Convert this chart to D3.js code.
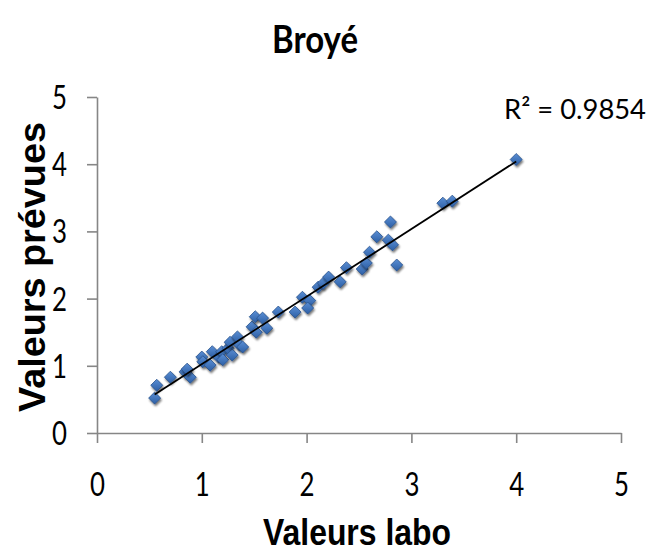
<!DOCTYPE html>
<html><head><meta charset="utf-8">
<script src="https://cdn.jsdelivr.net/npm/d3@7"></script>
<style>html,body{margin:0;padding:0;background:#fff;}svg{display:block;}</style>
</head><body>
<svg id="chart" width="653" height="552"></svg>
<script>
const title = "Broyé";
const xTitle = "Valeurs labo";
const yTitle = "Valeurs prévues";
const r2Label = "R² = 0.9854";
const xTicks = [0, 1, 2, 3, 4, 5];
const yTicks = [0, 1, 2, 3, 4, 5];
const labo = [0.55,0.57,0.70,0.84,0.89,0.86,1.00,1.01,1.08,1.10,1.16,1.19,1.20,1.25,1.29,1.27,1.34,1.36,1.39,1.48,1.51,1.52,1.58,1.62,1.73,1.89,1.96,2.03,2.01,2.11,2.16,2.21,2.32,2.38,2.53,2.57,2.60,2.67,2.78,2.80,2.82,2.86,3.30,3.39,4.00];
const prevues = [0.52,0.71,0.83,0.91,0.83,0.95,1.13,1.06,1.01,1.21,1.13,1.21,1.09,1.26,1.16,1.35,1.43,1.31,1.28,1.58,1.73,1.50,1.71,1.56,1.80,1.80,2.02,1.97,1.86,2.17,2.23,2.32,2.25,2.46,2.44,2.53,2.69,2.92,2.87,3.14,2.80,2.50,3.42,3.45,4.07];

const svg = d3.select("#chart");
const x = d3.scaleLinear().domain([0, 5]).range([97, 621]);
const y = d3.scaleLinear().domain([0, 5]).range([433, 97]);
const axisColor = "#868686";

// axes
const gx = svg.append("g").attr("transform", `translate(0,${y(0)})`)
  .call(d3.axisBottom(x).tickValues(xTicks).tickSize(10).tickSizeOuter(0).tickFormat(d3.format("d")));
const gy = svg.append("g").attr("transform", `translate(${x(0)},0)`)
  .call(d3.axisLeft(y).tickValues(yTicks).tickSize(10).tickSizeOuter(0).tickFormat(d3.format("d")));
[gx, gy].forEach(g => {
  g.select(".domain").attr("stroke", axisColor).attr("stroke-width", 1.6);
  g.selectAll(".tick line").attr("stroke", axisColor).attr("stroke-width", 1.6);
  g.selectAll(".tick text").attr("fill", "#000")
    .style("font-family", "Lato, 'Open Sans', sans-serif").style("font-size", "32px")
    .attr("textLength", 15).attr("lengthAdjust", "spacingAndGlyphs");
});
gx.selectAll(".tick text").attr("y", 63).attr("dy", 0);
gy.selectAll(".tick text").attr("x", -30).attr("dy", "0.36em");

// trend line (least squares)
const n = labo.length;
const mx = d3.mean(labo), my = d3.mean(prevues);
let sxy = 0, sxx = 0;
for (let i = 0; i < n; i++) { sxy += (labo[i]-mx)*(prevues[i]-my); sxx += (labo[i]-mx)**2; }
const slope = sxy / sxx, icpt = my - slope * mx;
const [x0, x1] = d3.extent(labo);

// points
const defs = svg.append("defs");
const f = defs.append("filter").attr("id", "sh").attr("x", "-50%").attr("y", "-50%").attr("width", "200%").attr("height", "200%");
f.append("feGaussianBlur").attr("in", "SourceAlpha").attr("stdDeviation", 1.3).attr("result", "b");
f.append("feOffset").attr("in", "b").attr("dx", 1).attr("dy", 1.5).attr("result", "o");
f.append("feComponentTransfer").attr("in", "o").attr("result", "o2").append("feFuncA").attr("type", "linear").attr("slope", 0.55);
const m = f.append("feMerge"); m.append("feMergeNode").attr("in", "o2"); m.append("feMergeNode").attr("in", "SourceGraphic");
const grad = defs.append("linearGradient").attr("id", "gd").attr("x1", 0).attr("y1", 0).attr("x2", 0).attr("y2", 1);
grad.append("stop").attr("offset", "0%").attr("stop-color", "#5a8ed4");
grad.append("stop").attr("offset", "100%").attr("stop-color", "#2d5fa5");

const sym = d3.symbol().type(d3.symbolDiamond2).size(92);
svg.append("g").selectAll("path").data(labo).join("path")
  .attr("transform", (d, i) => `translate(${x(d)},${y(prevues[i])})`)
  .attr("d", sym).attr("fill", "url(#gd)").attr("stroke", "#28528c").attr("stroke-width", 0.8)
  .attr("filter", "url(#sh)");

svg.append("line")
  .attr("x1", x(x0)).attr("y1", y(slope * x0 + icpt))
  .attr("x2", x(x1)).attr("y2", y(slope * x1 + icpt))
  .attr("stroke", "#000").attr("stroke-width", 1.8);

// texts
svg.append("text").text(title).attr("x", 315).attr("y", 53).attr("text-anchor", "middle")
  .style("font-family", "Lato, sans-serif").style("font-weight", "bold").style("font-size", "39px")
  .attr("textLength", 86).attr("lengthAdjust", "spacingAndGlyphs");
svg.append("text").text(r2Label).attr("x", 504).attr("y", 119)
  .style("font-family", "Lato, sans-serif").style("font-size", "27px")
  .attr("textLength", 142).attr("lengthAdjust", "spacingAndGlyphs");
svg.append("text").text(xTitle).attr("x", 357).attr("y", 545).attr("text-anchor", "middle")
  .style("font-family", "'Liberation Sans', Arial, sans-serif").style("font-weight", "bold").style("font-size", "36px")
  .attr("textLength", 188).attr("lengthAdjust", "spacingAndGlyphs");
svg.append("text").text(yTitle).attr("transform", "translate(45,267) rotate(-90)").attr("text-anchor", "middle")
  .style("font-family", "'Liberation Sans', Arial, sans-serif").style("font-weight", "bold").style("font-size", "37px")
  .attr("textLength", 290).attr("lengthAdjust", "spacingAndGlyphs");
</script>
</body></html>
